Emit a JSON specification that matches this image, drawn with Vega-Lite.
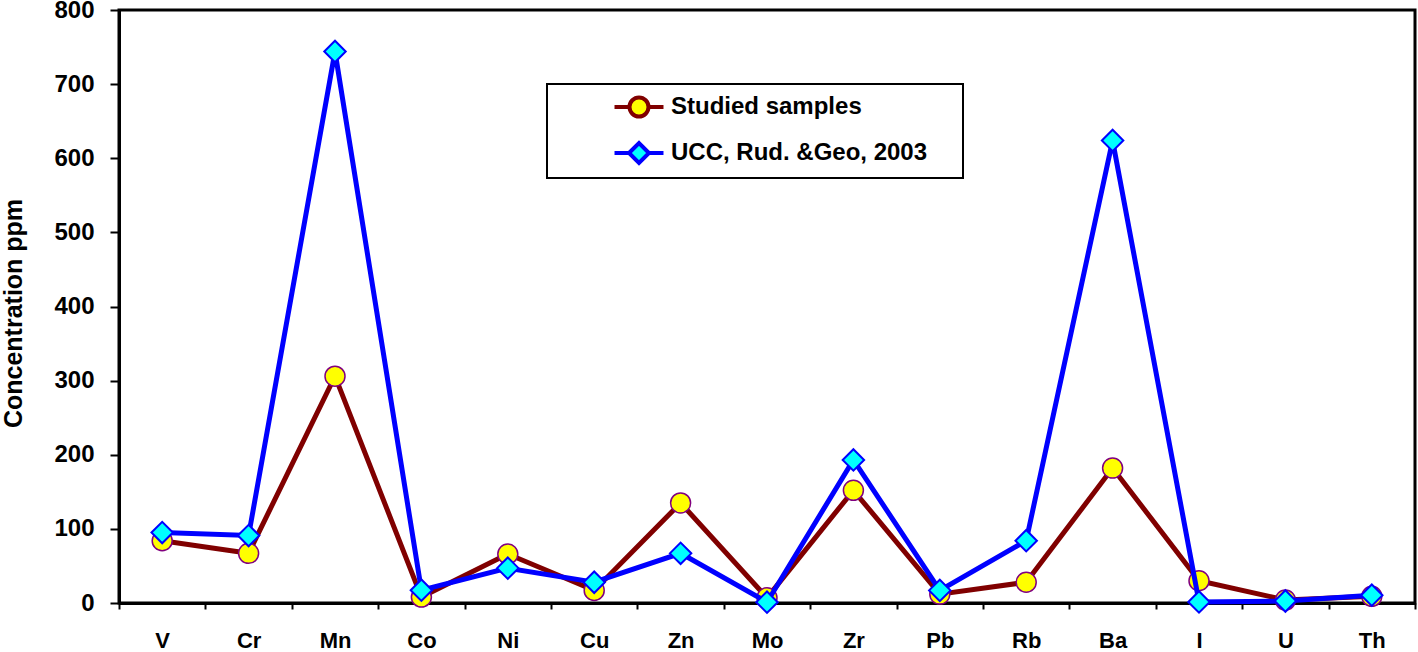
{
  "$schema": "https://vega.github.io/schema/vega-lite/v6.json",
  "width": 1296,
  "height": 593,
  "autosize": {"type": "none"},
  "padding": {"left": 119, "top": 10, "right": 3, "bottom": 49},
  "background": "white",
  "config": {
    "font": "Liberation Sans",
    "view": {"stroke": "#000000", "strokeWidth": 3},
    "axis": {"grid": false, "domainColor": "#000000", "domainWidth": 3, "tickColor": "#000000", "tickWidth": 2, "labelColor": "#000000", "labelFontWeight": "bold", "titleColor": "#000000", "titleFontWeight": "bold"}
  },
  "data": {
    "values": [
      {"element": "V", "series": "Studied samples", "value": 84},
      {"element": "Cr", "series": "Studied samples", "value": 67},
      {"element": "Mn", "series": "Studied samples", "value": 306},
      {"element": "Co", "series": "Studied samples", "value": 8},
      {"element": "Ni", "series": "Studied samples", "value": 66},
      {"element": "Cu", "series": "Studied samples", "value": 17},
      {"element": "Zn", "series": "Studied samples", "value": 135},
      {"element": "Mo", "series": "Studied samples", "value": 7},
      {"element": "Zr", "series": "Studied samples", "value": 152},
      {"element": "Pb", "series": "Studied samples", "value": 12},
      {"element": "Rb", "series": "Studied samples", "value": 28},
      {"element": "Ba", "series": "Studied samples", "value": 182},
      {"element": "I", "series": "Studied samples", "value": 30},
      {"element": "U", "series": "Studied samples", "value": 4},
      {"element": "Th", "series": "Studied samples", "value": 9},
      {"element": "V", "series": "UCC, Rud. &Geo, 2003", "value": 95},
      {"element": "Cr", "series": "UCC, Rud. &Geo, 2003", "value": 91},
      {"element": "Mn", "series": "UCC, Rud. &Geo, 2003", "value": 744},
      {"element": "Co", "series": "UCC, Rud. &Geo, 2003", "value": 17.3},
      {"element": "Ni", "series": "UCC, Rud. &Geo, 2003", "value": 47},
      {"element": "Cu", "series": "UCC, Rud. &Geo, 2003", "value": 28},
      {"element": "Zn", "series": "UCC, Rud. &Geo, 2003", "value": 67},
      {"element": "Mo", "series": "UCC, Rud. &Geo, 2003", "value": 1.1},
      {"element": "Zr", "series": "UCC, Rud. &Geo, 2003", "value": 193},
      {"element": "Pb", "series": "UCC, Rud. &Geo, 2003", "value": 17},
      {"element": "Rb", "series": "UCC, Rud. &Geo, 2003", "value": 84},
      {"element": "Ba", "series": "UCC, Rud. &Geo, 2003", "value": 624},
      {"element": "I", "series": "UCC, Rud. &Geo, 2003", "value": 1.4},
      {"element": "U", "series": "UCC, Rud. &Geo, 2003", "value": 2.7},
      {"element": "Th", "series": "UCC, Rud. &Geo, 2003", "value": 10.5}
    ]
  },
  "encoding": {
    "x": {
      "field": "element",
      "type": "nominal",
      "sort": ["V", "Cr", "Mn", "Co", "Ni", "Cu", "Zn", "Mo", "Zr", "Pb", "Rb", "Ba", "I", "U", "Th"],
      "scale": {"type": "band", "paddingInner": 0, "paddingOuter": 0},
      "axis": {"title": null, "labelAngle": 0, "labelFontSize": 22, "labelBaseline": "alphabetic", "tickBand": "extent", "tickSize": 6, "labelPadding": 38}
    },
    "y": {
      "field": "value",
      "type": "quantitative",
      "scale": {"domain": [0, 800], "nice": false, "zero": true},
      "axis": {"title": "Concentration ppm", "values": [0, 100, 200, 300, 400, 500, 600, 700, 800], "labelFontSize": 24, "tickSize": 9, "labelPadding": 16, "titleFontSize": 25, "titleAngle": -90, "titleAlign": "center", "titleBaseline": "middle", "titleX": -106, "titleY": 303}
    }
  },
  "layer": [
    {
      "transform": [{"filter": "datum.series === 'Studied samples'"}],
      "mark": {"type": "line", "strokeWidth": 5},
      "encoding": {
        "color": {
          "field": "series",
          "type": "nominal",
          "scale": {"domain": ["Studied samples", "UCC, Rud. &Geo, 2003"], "range": ["#800000", "#0000FF"]},
          "legend": {
            "title": ".",
            "titleOrient": "right",
            "titleColor": "#FFFFFF",
            "titleFontSize": 10,
            "titlePadding": 27,
            "orient": "none",
            "legendX": 428,
            "legendY": 74,
            "direction": "vertical",
            "strokeColor": "#000000",
            "fillColor": "#FFFFFF",
            "padding": 6,
            "rowPadding": 9,
            "symbolSize": 900,
            "symbolOffset": 69,
            "labelOffset": 15,
            "labelFontSize": 24,
            "labelFontWeight": "bold",
            "labelColor": "#000000",
            "labelLimit": 400,
            "encode": {
              "legend": {"update": {"strokeWidth": {"value": 2}}},
              "symbols": {
                "update": {
                  "shape": {"signal": "datum.value === 'Studied samples' ? 'M-1.633,0L-0.633,0M0.633,0L1.633,0M-0.633,0A0.633,0.633,0,1,0,0.633,0A0.633,0.633,0,1,0,-0.633,0Z' : 'M-1.633,0L-0.667,0M0.667,0L1.633,0M-0.667,0L0,-0.667L0.667,0L0,0.667Z'"},
                  "fill": {"signal": "datum.value === 'Studied samples' ? '#FFFF00' : '#00FFFF'"},
                  "stroke": {"signal": "datum.value === 'Studied samples' ? '#800000' : '#0000FF'"},
                  "strokeWidth": {"value": 4},
                  "opacity": {"value": 1},
                  "fillOpacity": {"value": 1},
                  "strokeOpacity": {"value": 1}
                }
              }
            }
          }
        }
      }
    },
    {
      "transform": [{"filter": "datum.series === 'Studied samples'"}],
      "mark": {"type": "point", "shape": "circle", "filled": true, "fill": "#FFFF00", "stroke": "#800080", "strokeWidth": 1.5, "size": 400, "opacity": 1}
    },
    {
      "transform": [{"filter": "datum.series !== 'Studied samples'"}],
      "mark": {"type": "line", "strokeWidth": 5},
      "encoding": {
        "color": {"field": "series", "type": "nominal"}
      }
    },
    {
      "transform": [{"filter": "datum.series !== 'Studied samples'"}],
      "mark": {"type": "point", "shape": "diamond", "filled": true, "fill": "#00FFFF", "stroke": "#0000FF", "strokeWidth": 2, "size": 460, "opacity": 1}
    }
  ]
}
